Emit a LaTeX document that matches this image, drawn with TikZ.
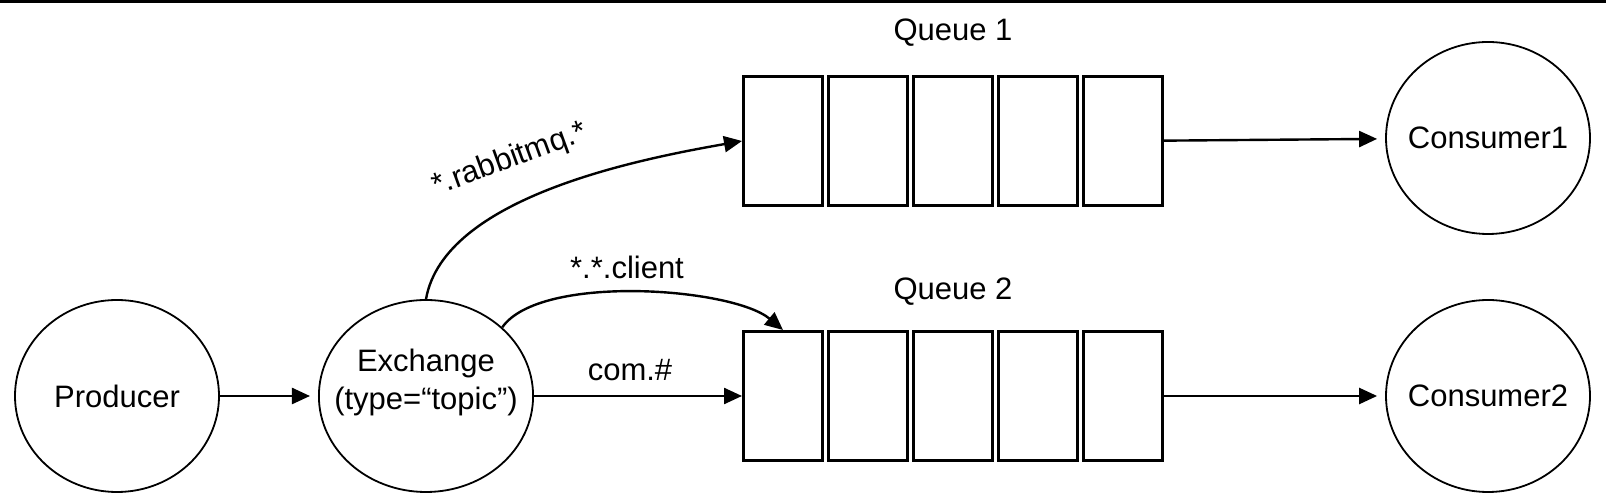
\documentclass[tikz,border=0pt]{standalone}
\usepackage{fontspec}
\setmainfont{Liberation Sans}
\usetikzlibrary{arrows.meta,shapes.geometric}

\begin{document}
\begin{tikzpicture}[x=0.5pt,y=0.5pt,
		font=\fontsize{15.5pt}{19pt}\selectfont,
		actor/.style={ellipse,draw,line width=0.9pt,minimum width=102pt,minimum height=96pt,inner xsep=-8pt,inner ysep=0pt,align=center},
		cell/.style={rectangle,draw,line width=1.4pt,minimum width=39.6pt,minimum height=64.6pt},
		link/.style={arrows={-Triangle[length=9pt,width=8pt]},line width=1.2pt}]
		\useasboundingbox (0,0) rectangle (1606,502);
		\fill (0,499) rectangle (1606,502);

		\node[actor] (producer) at (117,106) {Producer};
		\node[actor,text depth=17pt] (exchange) at (426,106) {Exchange\\(type=“topic”)};

		\node[actor] (consumer1) at (1488,364) {Consumer1};
		\node[actor] (consumer2) at (1488,106) {Consumer2};

		% queue 1
		\node[cell] (queue1a) at (783,361) {};
		\node[cell] (queue1b) at (868,361) {};
		\node[cell] (queue1c) at (953,361) {};
		\node[cell] (queue1d) at (1038,361) {};
		\node[cell] (queue1e) at (1123,361) {};
		\node (lblqueue1) at (953,469) {Queue 1};

		% queue 2
		\node[cell] (queue2a) at (783,106) {};
		\node[cell] (queue2b) at (868,106) {};
		\node[cell] (queue2c) at (953,106) {};
		\node[cell] (queue2d) at (1038,106) {};
		\node[cell] (queue2e) at (1123,106) {};
		\node (lblqueue2) at (953,210) {Queue 2};

		\node[rotate=20] (lblrabbit) at (510,342) {*.rabbitmq.*};
		\node (lblclient) at (627,235) {*.*.client};
		\node (lblcom) at (630,132) {com.\#};

		\path[link] (producer) edge[shorten >=4pt] (exchange);
		\path[link] (exchange) edge (queue2a);
		\path[link] (exchange.north) edge[out=80,in=190,looseness=0.75] (queue1a.west);
		\path[link] (exchange.42) edge[out=55,in=140,looseness=0.6] (queue2a.north);
		\path[link] (queue1e) edge[shorten >=4pt] (consumer1);
		\path[link] (queue2e) edge[shorten >=4pt] (consumer2);
	\end{tikzpicture}
\end{document}
